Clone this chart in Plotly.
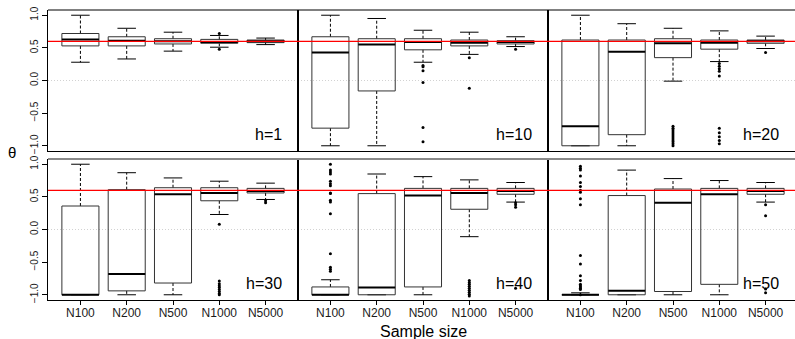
import plotly.graph_objects as go
from plotly.subplots import make_subplots

# ---------------- data ----------------
categories = ["N100", "N200", "N500", "N1000", "N5000"]
horizons = [1, 10, 20, 30, 40, 50]
true_theta = 0.6

# per panel (h order), per category (N100..N5000)
lower_whisker = [
    [0.28, 0.33, 0.45, 0.51, 0.55],
    [-1.00, -1.00, 0.28, 0.40, 0.52],
    [-1.00, -1.00, -0.01, 0.29, 0.49],
    [-1.00, -1.00, -1.00, 0.23, 0.46],
    [-1.00, -1.00, -1.00, -0.11, 0.42],
    [-1.00, -1.00, -1.00, -1.00, 0.42],
]
q1 = [
    [0.53, 0.53, 0.56, 0.57, 0.58],
    [-0.73, -0.16, 0.47, 0.53, 0.56],
    [-1.00, -0.83, 0.35, 0.48, 0.57],
    [-1.00, -0.94, -0.82, 0.44, 0.56],
    [-1.00, -1.00, -0.88, 0.31, 0.54],
    [-1.00, -1.00, -0.95, -0.84, 0.54],
]
median = [
    [0.63, 0.61, 0.60, 0.59, 0.60],
    [0.43, 0.55, 0.59, 0.58, 0.59],
    [-0.70, 0.44, 0.57, 0.58, 0.60],
    [-1.00, -0.68, 0.54, 0.56, 0.59],
    [-1.00, -0.89, 0.52, 0.56, 0.59],
    [-1.00, -0.94, 0.41, 0.54, 0.59],
]
q3 = [
    [0.72, 0.67, 0.64, 0.63, 0.62],
    [0.67, 0.64, 0.64, 0.62, 0.61],
    [0.62, 0.62, 0.64, 0.62, 0.62],
    [0.36, 0.61, 0.64, 0.64, 0.63],
    [-0.88, 0.55, 0.63, 0.63, 0.63],
    [-0.99, 0.52, 0.62, 0.63, 0.63],
]
upper_whisker = [
    [1.00, 0.80, 0.74, 0.69, 0.65],
    [1.00, 0.95, 0.77, 0.74, 0.67],
    [1.00, 0.87, 0.80, 0.76, 0.68],
    [1.00, 0.87, 0.79, 0.74, 0.71],
    [-0.77, 0.85, 0.81, 0.76, 0.72],
    [-0.97, 0.91, 0.78, 0.75, 0.72],
]
outliers = [
    [[], [], [], [0.72, 0.48], []],
    [[], [], [0.23, 0.21, 0.15, -0.03, -0.72, -0.94], [0.35, -0.12], [0.48]],
    [[], [],
     [-0.70, -0.73, -0.76, -0.79, -0.82, -0.85, -0.88, -0.91, -0.94, -0.97, -1.00],
     [0.26, 0.22, 0.18, 0.14, 0.07, -0.73, -0.80, -0.86, -0.92, -0.97],
     [0.43]],
    [[], [], [],
     [0.08, -0.79, -0.83, -0.86, -0.89, -0.92, -0.95, -0.98, -1.00],
     [0.44, 0.41]],
    [[1.00, 0.91, 0.88, 0.85, 0.74, 0.70, 0.67, 0.56, 0.55, 0.45, 0.42, 0.24,
      -0.37, -0.58, -0.61, -0.64], [], [],
     [-0.78, -0.81, -0.84, -0.87, -0.90, -0.93, -0.96, -0.99, -1.02],
     [0.41, 0.38, 0.34, -0.90]],
    [[0.97, 0.94, 0.91, 0.82, 0.72, 0.66, 0.60, 0.57, 0.47, 0.38, -0.40, -0.53,
      -0.71, -0.78, -0.84, -0.86, -0.88, -0.90, -0.92, -1.00], [], [], [],
     [0.38, 0.21, -0.91, -0.97]],
]
ytick_vals = [-1.0, -0.5, 0.0, 0.5, 1.0]
ytick_text = ["\u22121.0", "\u22120.5", "0.0", "0.5", "1.0"]

# ---------------- styling ----------------
FONT = "Liberation Sans, Arial, sans-serif"
BOX_HALF = 0.40
CAP_HALF = 0.20

W, H = 795, 339
ML, MR, MT, MB = 48, 0, 10, 39
col_px = [250, 250, 247]
plot_w = W - ML - MR
plot_h = H - MT - MB

fig = make_subplots(rows=2, cols=3, column_widths=col_px,
                    horizontal_spacing=0, vertical_spacing=8 / plot_h)

for p, h in enumerate(horizons):
    row = p // 3 + 1
    col = p % 3 + 1
    xd = "x domain" if p == 0 else f"x{p+1} domain"
    yd = "y domain" if p == 0 else f"y{p+1} domain"
    bx, by, mx, my, wx, wy, cx, cy, ox, oy = ([] for _ in range(10))
    for i, cat in enumerate(categories):
        x = i + 1
        a, b, m, c, d = lower_whisker[p][i], q1[p][i], median[p][i], q3[p][i], upper_whisker[p][i]
        bx += [x - BOX_HALF, x + BOX_HALF, x + BOX_HALF, x - BOX_HALF, x - BOX_HALF, None]
        by += [b, b, c, c, b, None]
        mx += [x - BOX_HALF, x + BOX_HALF, None]
        my += [m, m, None]
        wx += [x, x, None, x, x, None]
        wy += [c, d, None, b, a, None]
        cx += [x - CAP_HALF, x + CAP_HALF, None, x - CAP_HALF, x + CAP_HALF, None]
        cy += [d, d, None, a, a, None]
        for v in outliers[p][i]:
            ox.append(x)
            oy.append(v)
    fig.add_trace(go.Scatter(x=wx, y=wy, mode="lines", hoverinfo="skip",
                             line=dict(color="black", width=1, dash="3px,2px")), row=row, col=col)
    fig.add_trace(go.Scatter(x=cx, y=cy, mode="lines", hoverinfo="skip",
                             line=dict(color="black", width=1)), row=row, col=col)
    fig.add_trace(go.Scatter(x=bx, y=by, mode="lines", hoverinfo="skip",
                             line=dict(color="#333333", width=1)), row=row, col=col)
    fig.add_trace(go.Scatter(x=mx, y=my, mode="lines", hoverinfo="skip",
                             line=dict(color="black", width=2)), row=row, col=col)
    fig.add_trace(go.Scatter(x=ox, y=oy, mode="markers", hoverinfo="skip",
                             marker=dict(color="black", size=3, line=dict(width=0))),
                  row=row, col=col)
    # reference lines
    fig.add_hline(y=0, line=dict(color="#d2d2d2", width=1, dash="1px,2px"), layer="below",
                  row=row, col=col)
    fig.add_hline(y=true_theta, line=dict(color="red", width=1.2), row=row, col=col)

    # panel label
    fig.add_annotation(text=f"h={h}", xref=xd, yref=yd,
                       x=1, y=0, xanchor="right", yanchor="middle", xshift=-14, yshift=17,
                       showarrow=False, font=dict(family=FONT, size=16, color="black"))

    xr = [0.3, 5.7] if col < 3 else [0.3, 0.3 + 5.4 * col_px[2] / col_px[0]]
    fig.update_xaxes(range=xr, showgrid=False, zeroline=False, showline=True,
                     linecolor="black", linewidth=1, mirror=False,
                     tickvals=[1, 2, 3, 4, 5], ticktext=categories,
                     ticks="outside" if row == 2 else "", ticklen=4, tickcolor="black",
                     showticklabels=(row == 2), ticklabelstandoff=-2,
                     tickfont=dict(family=FONT, size=12, color="#1a1a1a"),
                     row=row, col=col)
    fig.update_yaxes(range=[-1.08, 1.08], showgrid=False, zeroline=False, showline=True,
                     linecolor="black", linewidth=1, mirror=(col < 3),
                     tickvals=ytick_vals, ticktext=ytick_text,
                     ticks="outside" if col == 1 else "", ticklen=5, tickcolor="black",
                     showticklabels=(col == 1), tickangle=-90,
                     tickfont=dict(family=FONT, size=10, color="#1a1a1a"),
                     row=row, col=col)
    # top border of each panel
    fig.add_shape(type="line", xref=xd, yref=yd, x0=0, x1=1, y0=1, y1=1,
                  line=dict(color="black" if row == 1 else "#8a8a8a", width=1 if row == 1 else 2))

fig.add_annotation(text="Sample size", xref="paper", yref="paper",
                   x=(423 - ML) / plot_w, y=(H - MB - 331) / plot_h,
                   xanchor="center", yanchor="middle", showarrow=False,
                   font=dict(family=FONT, size=16, color="black"))
fig.add_annotation(text="\u03b8", xref="paper", yref="paper",
                   x=(12 - ML) / plot_w, y=(H - MB - 152) / plot_h,
                   xanchor="center", yanchor="middle", showarrow=False,
                   font=dict(family=FONT, size=15, color="black"))

fig.update_layout(width=W, height=H, margin=dict(l=ML, r=MR, t=MT, b=MB),
                  paper_bgcolor="white", plot_bgcolor="white", showlegend=False,
                  font=dict(family=FONT))
fig.write_html("out.html")
